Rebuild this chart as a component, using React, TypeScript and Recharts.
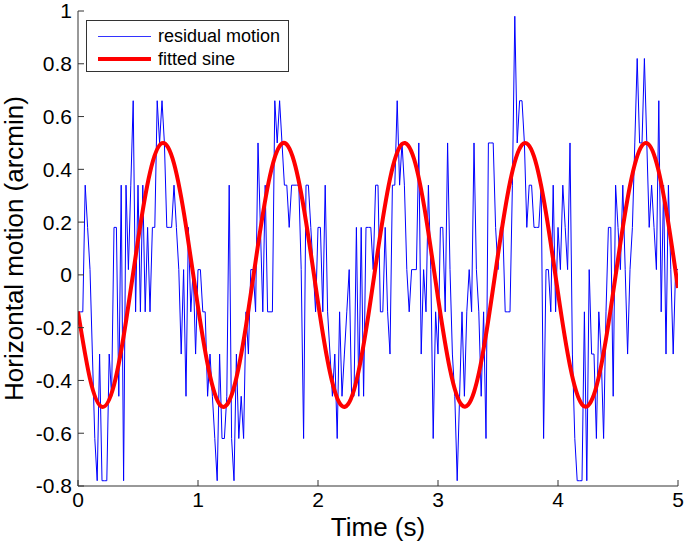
import { Legend, Line, LineChart, XAxis, YAxis } from "recharts";

// residual motion, sampled every 0.02 s (one array per second)
const SAMPLE_STEP = 0.02;
const residualSec0 = [
  -0.14, -0.14, -0.14, 0.34, 0.18, 0.02, -0.3, -0.62, -0.78, -0.3,
  -0.78, -0.78, -0.78, -0.3, -0.46, 0.18, 0.18, -0.46, 0.34, -0.78,
  0.34, 0.02, 0.34, 0.66, -0.14, 0.34, -0.14, 0.34, -0.14, 0.18,
  -0.14, 0.18, 0.18, 0.66, 0.5, 0.66, 0.5, 0.18, 0.18, 0.18,
  0.34, 0.18, 0.02, -0.3, 0.02, -0.46, 0.18, -0.14, 0.02, -0.3
];
const residualSec1 = [
  0.02, 0.02, -0.14, -0.14, -0.46, -0.3, -0.46, -0.62, -0.78, -0.3,
  -0.62, -0.62, -0.46, 0.34, -0.62, -0.78, -0.3, -0.62, -0.46, -0.62,
  -0.14, -0.3, 0.02, 0.02, -0.14, 0.5, 0.18, -0.14, 0.34, -0.14,
  -0.14, -0.14, 0.66, 0.5, 0.66, 0.5, 0.34, 0.34, 0.18, 0.34,
  0.34, 0.34, 0.34, 0.02, -0.62, 0.34, 0.34, 0.18, 0.02, -0.14
];
const residualSec2 = [
  0.18, 0.18, -0.14, 0.34, -0.14, -0.3, -0.46, -0.3, -0.62, -0.14,
  -0.46, -0.3, -0.14, 0.02, -0.46, -0.46, 0.18, -0.46, 0.18, -0.46,
  0.18, 0.18, 0.18, 0.02, 0.34, 0.34, -0.14, -0.14, 0.18, -0.14,
  -0.3, 0.34, 0.34, 0.66, 0.34, 0.5, 0.34, 0.02, -0.14, 0.02,
  0.02, 0.02, 0.5, -0.3, 0.02, -0.14, 0.34, 0.02, -0.62, -0.14
];
const residualSec3 = [
  -0.3, 0.18, 0.18, -0.14, 0.5, 0.02, -0.3, -0.46, -0.78, -0.46,
  -0.14, -0.46, -0.14, 0.02, -0.14, 0.5, 0.02, -0.14, -0.46, -0.14,
  -0.62, 0.5, 0.5, 0.5, 0.18, 0.02, 0.18, 0.18, -0.14, -0.14,
  -0.14, 0.34, 0.98, 0.5, 0.66, 0.66, 0.5, 0.18, 0.34, 0.34,
  0.18, 0.18, 0.18, 0.34, -0.62, 0.02, 0.02, -0.14, 0.34, -0.14
];
const residualSec4 = [
  0.18, 0.02, 0.34, 0.18, 0.02, 0.5, -0.3, -0.62, -0.78, -0.78,
  -0.78, -0.14, -0.78, 0.02, -0.3, -0.3, -0.62, -0.14, -0.3, -0.62,
  -0.14, 0.18, 0.18, -0.46, 0.34, 0.18, 0.02, 0.34, 0.02, -0.3,
  0.02, 0.18, 0.5, 0.82, 0.5, 0.5, 0.82, 0.5, 0.18, 0.34,
  0.18, 0.02, 0.66, -0.14, 0.34, -0.3, 0.34, 0.02, -0.3, 0.02,
  0.02
];

// fitted sine, read every 0.1 s
const SINE_STEP = 0.1;
const fittedSine = [
  -0.139, -0.394, -0.5, -0.417, -0.176, 0.131, 0.388, 0.499, 0.422, 0.185,
  -0.122, -0.382, -0.499, -0.426, -0.193, 0.113, 0.376, 0.498, 0.431, 0.202,
  -0.104, -0.37, -0.497, -0.436, -0.21, 0.095, 0.364, 0.496, 0.44, 0.218,
  -0.086, -0.358, -0.494, -0.444, -0.227, 0.077, 0.351, 0.493, 0.449, 0.235,
  -0.068, -0.345, -0.491, -0.453, -0.243, 0.059, 0.338, 0.49, 0.456, 0.251,
  -0.05
];

const xTicks = [0, 1, 2, 3, 4, 5];
const yTicks = [-0.8, -0.6, -0.4, -0.2, 0, 0.2, 0.4, 0.6, 0.8, 1];

const residual = [...residualSec0, ...residualSec1, ...residualSec2, ...residualSec3, ...residualSec4];
const residualData = residual.map((v, i) => ({ t: +(i * SAMPLE_STEP).toFixed(2), v }));
const sineData = fittedSine.map((v, i) => ({ t: +(i * SINE_STEP).toFixed(1), v }));

const font = "'Liberation Sans', Arial, Helvetica, sans-serif";
const axisColor = "#333";
const tickStyle = { fontFamily: font, fontSize: 21, fill: "#000" };
const labelStyle = { fontFamily: font, fontSize: 26, fill: "#000" };

function LegendBox() {
  return (
    <div
      style={{
        width: 201,
        height: 50,
        border: `1px solid ${axisColor}`,
        background: "#fff",
        fontFamily: font,
        fontSize: 18,
        color: "#000",
        position: "relative"
      }}
    >
      {[
        { label: "residual motion", color: "#3333ff", w: 1, top: 15 },
        { label: "fitted sine", color: "#ff0000", w: 4, top: 38 }
      ].map((r) => (
        <div key={r.label}>
          <div
            style={{
              position: "absolute",
              left: 11,
              width: 53,
              top: r.top - r.w / 2,
              height: r.w,
              background: r.color
            }}
          />
          <div style={{ position: "absolute", left: 71, top: r.top - 11, lineHeight: "22px" }}>{r.label}</div>
        </div>
      ))}
    </div>
  );
}

export default function App() {
  return (
    <div style={{ width: 685, height: 543, background: "#fff" }}>
      <style>{"body{margin:0}"}</style>
      <LineChart width={685} height={543} margin={{ top: 11, right: 7, bottom: 0, left: 0 }}>
        <XAxis
          dataKey="t"
          type="number"
          domain={[0, 5]}
          ticks={xTicks}
          interval={0}
          height={57}
          stroke={axisColor}
          tickSize={-6}
          tickMargin={12}
          tick={tickStyle}
          allowDataOverflow
          label={{ value: "Time (s)", position: "insideBottom", offset: 7, style: labelStyle }}
        />
        <XAxis
          xAxisId="top"
          orientation="top"
          type="number"
          domain={[0, 5]}
          ticks={xTicks}
          interval={0}
          height={0}
          stroke={axisColor}
          tickSize={-6}
          tick={false}
          allowDataOverflow
        />
        <YAxis
          type="number"
          domain={[-0.8, 1]}
          ticks={yTicks}
          interval={0}
          width={78}
          stroke={axisColor}
          tickSize={-6}
          tickMargin={12}
          tick={tickStyle}
          allowDataOverflow
          label={(props: any) => {
            const vb = props.viewBox || { x: 0, y: 11, height: 475 };
            const cy = vb.y + vb.height / 2;
            return (
              <text
                x={14}
                y={cy}
                transform={`rotate(-90 14 ${cy})`}
                textAnchor="middle"
                dominantBaseline="central"
                style={labelStyle}
              >
                Horizontal motion (arcmin)
              </text>
            );
          }}
        />
        <YAxis
          yAxisId="right"
          orientation="right"
          type="number"
          domain={[-0.8, 1]}
          ticks={yTicks}
          interval={0}
          width={0}
          stroke={axisColor}
          tickSize={-6}
          tick={false}
          allowDataOverflow
        />
        <Legend
          layout="vertical"
          align="center"
          verticalAlign="middle"
          wrapperStyle={{ left: 86, top: 20, width: 203, height: 52 }}
          content={() => <LegendBox />}
        />
        <Line
          data={residualData}
          dataKey="v"
          type="linear"
          stroke="#0000ff"
          strokeWidth={1}
          dot={false}
          isAnimationActive={false}
        />
        <Line
          data={sineData}
          dataKey="v"
          type="natural"
          stroke="#ff0000"
          strokeWidth={4}
          dot={false}
          isAnimationActive={false}
        />
      </LineChart>
    </div>
  );
}
